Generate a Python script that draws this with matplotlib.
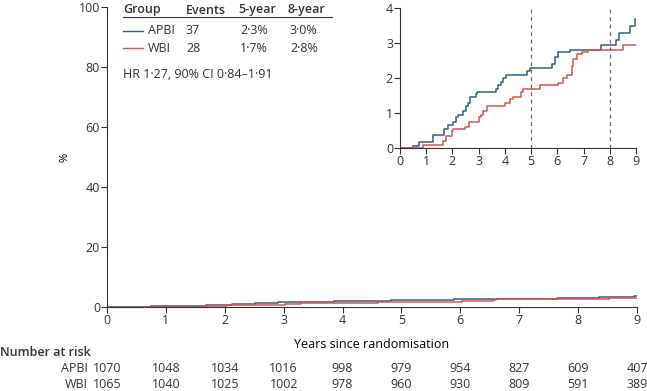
import numpy as np
import matplotlib
matplotlib.use('Agg')
import matplotlib.pyplot as plt

plt.rcParams['font.family'] = ['Open Sans', 'DejaVu Sans']
plt.rcParams['font.size'] = 9
plt.rcParams['text.color'] = '#333333'
plt.rcParams['axes.edgecolor'] = '#333333'
plt.rcParams['xtick.color'] = '#333333'
plt.rcParams['ytick.color'] = '#333333'

##################################### data
# cumulative incidence (%) step points
apbi_t = [0, 0.48, 0.74, 1.27, 1.68, 1.84, 2.03, 2.12, 2.22, 2.41, 2.51, 2.60, 2.67, 2.90, 2.95, 3.66,
          3.75, 3.85, 3.94, 4.06, 4.83, 4.95, 5.78, 5.90, 6.03, 6.48, 7.65, 8.25, 8.35, 8.78, 8.95, 9.0]
apbi_y = [0, 0.05, 0.18, 0.38, 0.55, 0.65, 0.75, 0.90, 0.95, 1.05, 1.20, 1.30, 1.45, 1.55, 1.60, 1.70,
          1.80, 1.90, 2.00, 2.10, 2.20, 2.30, 2.40, 2.60, 2.75, 2.80, 2.95, 3.10, 3.30, 3.50, 3.70, 3.70]
wbi_t = [0, 0.86, 1.65, 1.75, 1.97, 2.03, 2.47, 2.64, 3.03, 3.10, 3.17, 3.30, 4.00, 4.20, 4.32, 4.60,
         4.70, 5.32, 6.03, 6.20, 6.37, 6.55, 6.60, 6.74, 6.93, 7.18, 8.52, 9.0]
wbi_y = [0, 0.08, 0.20, 0.35, 0.50, 0.55, 0.60, 0.75, 0.90, 0.95, 1.05, 1.20, 1.30, 1.40, 1.45, 1.60,
         1.70, 1.80, 1.85, 2.00, 2.10, 2.35, 2.55, 2.70, 2.75, 2.80, 2.95, 2.95]

years = list(range(10))
risk_apbi = [1070, 1048, 1034, 1016, 998, 979, 954, 827, 609, 407]
risk_wbi = [1065, 1040, 1025, 1002, 978, 960, 930, 809, 591, 389]

table_header = ['Group', 'Events', '5-year', '8-year']
table_rows = [['APBI', '37', '2·3%', '3·0%'],
              ['WBI', '28', '1·7%', '2·8%']]
hr_text = 'HR 1·27, 90% CI 0·84–1·91'

BLUE = '#2f5f86'
RED = '#d9534f'
#####################################

fig = plt.figure(figsize=(6.47, 3.91), dpi=100)

def fx(px):
    return px/647
def fy(py):
    return 1-py/391

##################################### main axes
ax = fig.add_axes([107/647, 1-307/391, 530/647, 300/391])
ax.step(apbi_t, apbi_y, where='post', color=BLUE, lw=1.1)
ax.step(wbi_t, wbi_y, where='post', color=RED, lw=1.1)
ax.set_xlim(0, 9)
ax.set_ylim(0, 100)
ax.set_xticks(years)
ax.set_yticks(range(0, 101, 20))
ax.spines['top'].set_visible(False)
ax.spines['right'].set_visible(False)
ax.tick_params(length=4, width=0.8, pad=1)
ax.set_ylabel('%', fontsize=8, labelpad=6)
ax.set_xlabel('Years since randomisation', labelpad=8)

# legend table
cols = [123, 186, 238, 288]
for c, h in zip(cols, table_header):
    fig.text(fx(c), fy(10), h, fontweight='semibold', va='center', ha='left')
fig.add_artist(plt.Line2D([fx(123), fx(332)], [fy(17), fy(17)], color='#333333', lw=0.8))
for r, (row, col) in enumerate(zip(table_rows, [BLUE, RED])):
    yy = fy(31 + r*17)
    fig.add_artist(plt.Line2D([fx(123), fx(143)], [yy, yy], color=col, lw=1))
    fig.text(fx(148), yy, row[0], va='center')
    fig.text(fx(186), yy, row[1], va='center')
    fig.text(fx(240), yy, row[2], va='center')
    fig.text(fx(290), yy, row[3], va='center')
fig.text(fx(123), fy(74), hr_text, va='center')

##################################### inset
axi = fig.add_axes([400/647, 1-148/391, 236/647, 140/391])
axi.step(apbi_t, apbi_y, where='post', color=BLUE, lw=1.1)
axi.step(wbi_t, wbi_y, where='post', color=RED, lw=1.1)
axi.axvline(5, color='#666666', ls=(0, (3, 3)), lw=0.9)
axi.axvline(8, color='#666666', ls=(0, (3, 3)), lw=0.9)
axi.set_xlim(0, 9)
axi.set_ylim(0, 4)
axi.set_xticks(years)
axi.set_yticks(range(5))
axi.spines['top'].set_visible(False)
axi.spines['right'].set_visible(False)
axi.tick_params(length=4, width=0.8, pad=1)

##################################### number at risk
fig.text(0, fy(352), 'Number at risk', fontweight='semibold', va='center', ha='left')
for lab, vals, py in [('APBI', risk_apbi, 368), ('WBI', risk_wbi, 384)]:
    fig.text(fx(88), fy(py), lab, va='center', ha='right')
    for yr, v in zip(years, vals):
        xpx = 107 + yr*530/9
        fig.text(fx(xpx), fy(py), str(v), va='center', ha='center')

fig.savefig('out.png', dpi=100)
